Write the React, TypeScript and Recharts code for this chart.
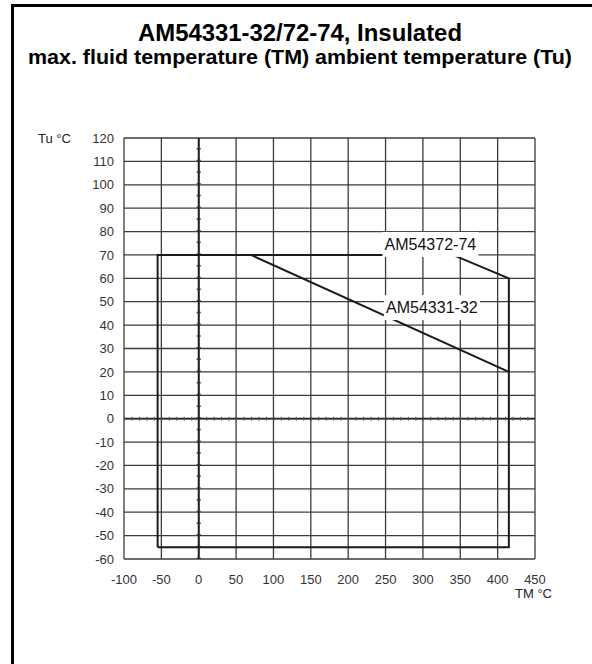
import React from "react";
import { ComposedChart, Line, Scatter, XAxis, YAxis, CartesianGrid, ReferenceLine } from "recharts";

// Ticks
const xTicks = [-100, -50, 0, 50, 100, 150, 200, 250, 300, 350, 400, 450];
const yTicks = [-60, -50, -40, -30, -20, -10, 0, 10, 20, 30, 40, 50, 60, 70, 80, 90, 100, 110, 120];

// AM54372-74 operating envelope (TM °C, Tu °C)
const envelopeTM = [-55, -55, 340, 415, 415, -55];
const envelopeTu = [-55, 70, 70, 60, -55, -55];

// AM54331-32 limit line
const limitTM = [70, 415];
const limitTu = [70, 20];

// Curve labels
const labelNames = ["AM54372-74", "AM54331-32"];
const labelTM = [310, 312];
const labelTu = [74.5, 47.5];

const envelopeData = envelopeTM.map((x, i) => ({ x, y: envelopeTu[i] }));
const limitData = limitTM.map((x, i) => ({ x, y: limitTu[i] }));
const labelData = labelNames.map((name, i) => ({ x: labelTM[i], y: labelTu[i], name }));

const FONT = "'Liberation Sans', Arial, Helvetica, sans-serif";

const LabelShape = (props: any) => {
  const { cx, cy, payload } = props;
  if (cx == null || cy == null) return null;
  return (
    <g>
      <rect x={cx - 48} y={cy - 12.5} width={96} height={25} fill="#ffffff" />
      <text
        x={cx}
        y={cy + 5.5}
        textAnchor="middle"
        fontSize={16}
        fontFamily={FONT}
        fill="#111"
      >
        {payload.name}
      </text>
    </g>
  );
};

export default function App() {
  return (
    <div style={{ position: "absolute", left: 0, top: 0, width: 592, height: 664, background: "#fff", fontFamily: FONT }}>
      <ComposedChart
        width={592}
        height={664}
        margin={{ top: 138, right: 57, bottom: 75, left: 64 }}
      >
        <CartesianGrid stroke="#3c3c3c" strokeWidth={1.3} />
        <XAxis
          dataKey="x"
          type="number"
          domain={[-100, 450]}
          ticks={xTicks}
          interval={0}
          height={30}
          axisLine={false}
          tickLine={false}
          tickSize={0}
          tickMargin={16}
          tick={{ fontSize: 13, fill: "#333", fontFamily: FONT }}
          allowDataOverflow
        />
        <YAxis
          type="number"
          domain={[-60, 120]}
          ticks={yTicks}
          interval={0}
          width={60}
          axisLine={false}
          tickLine={false}
          tickSize={0}
          tickMargin={10}
          tick={{ fontSize: 13, fill: "#333", fontFamily: FONT }}
          allowDataOverflow
        />
        <ReferenceLine y={0} stroke="#222" strokeWidth={1.6} />
        <ReferenceLine y={0} stroke="#555" strokeWidth={4} strokeDasharray="1 6.47" />
        <ReferenceLine x={0} stroke="#222" strokeWidth={2} />
        <ReferenceLine x={0} stroke="#333" strokeWidth={4} strokeDasharray="1.5 10.2" />
        <Line
          data={envelopeData}
          dataKey="y"
          type="linear"
          stroke="#1a1a1a"
          strokeWidth={2}
          dot={false}
          activeDot={false}
          isAnimationActive={false}
        />
        <Line
          data={limitData}
          dataKey="y"
          type="linear"
          stroke="#1a1a1a"
          strokeWidth={2}
          dot={false}
          activeDot={false}
          isAnimationActive={false}
        />
        <Scatter
          data={labelData}
          dataKey="y"
          shape={<LabelShape />}
          isAnimationActive={false}
        />
      </ComposedChart>
      <svg
        width={592}
        height={664}
        style={{ position: "absolute", left: 0, top: 0, pointerEvents: "none" }}
      >
        <line x1={12.5} y1={5} x2={12.5} y2={664} stroke="#000" strokeWidth={3} />
        <line x1={11} y1={5.5} x2={592} y2={5.5} stroke="#000" strokeWidth={3} />
        <text
          x={300}
          y={40.5}
          textAnchor="middle"
          fontSize={23}
          fontWeight="bold"
          fontFamily={FONT}
          fill="#000"
          textLength={324}
          lengthAdjust="spacingAndGlyphs"
        >
          AM54331-32/72-74, Insulated
        </text>
        <text
          x={300}
          y={64}
          textAnchor="middle"
          fontSize={20}
          fontWeight="bold"
          fontFamily={FONT}
          fill="#000"
          textLength={544}
          lengthAdjust="spacingAndGlyphs"
        >
          max. fluid temperature (TM) ambient temperature (Tu)
        </text>
        <text x={38} y={143} fontSize={13} fontFamily={FONT} fill="#222">
          Tu °C
        </text>
        <text x={515} y={598} fontSize={13} fontFamily={FONT} fill="#222">
          TM °C
        </text>
      </svg>
    </div>
  );
}
